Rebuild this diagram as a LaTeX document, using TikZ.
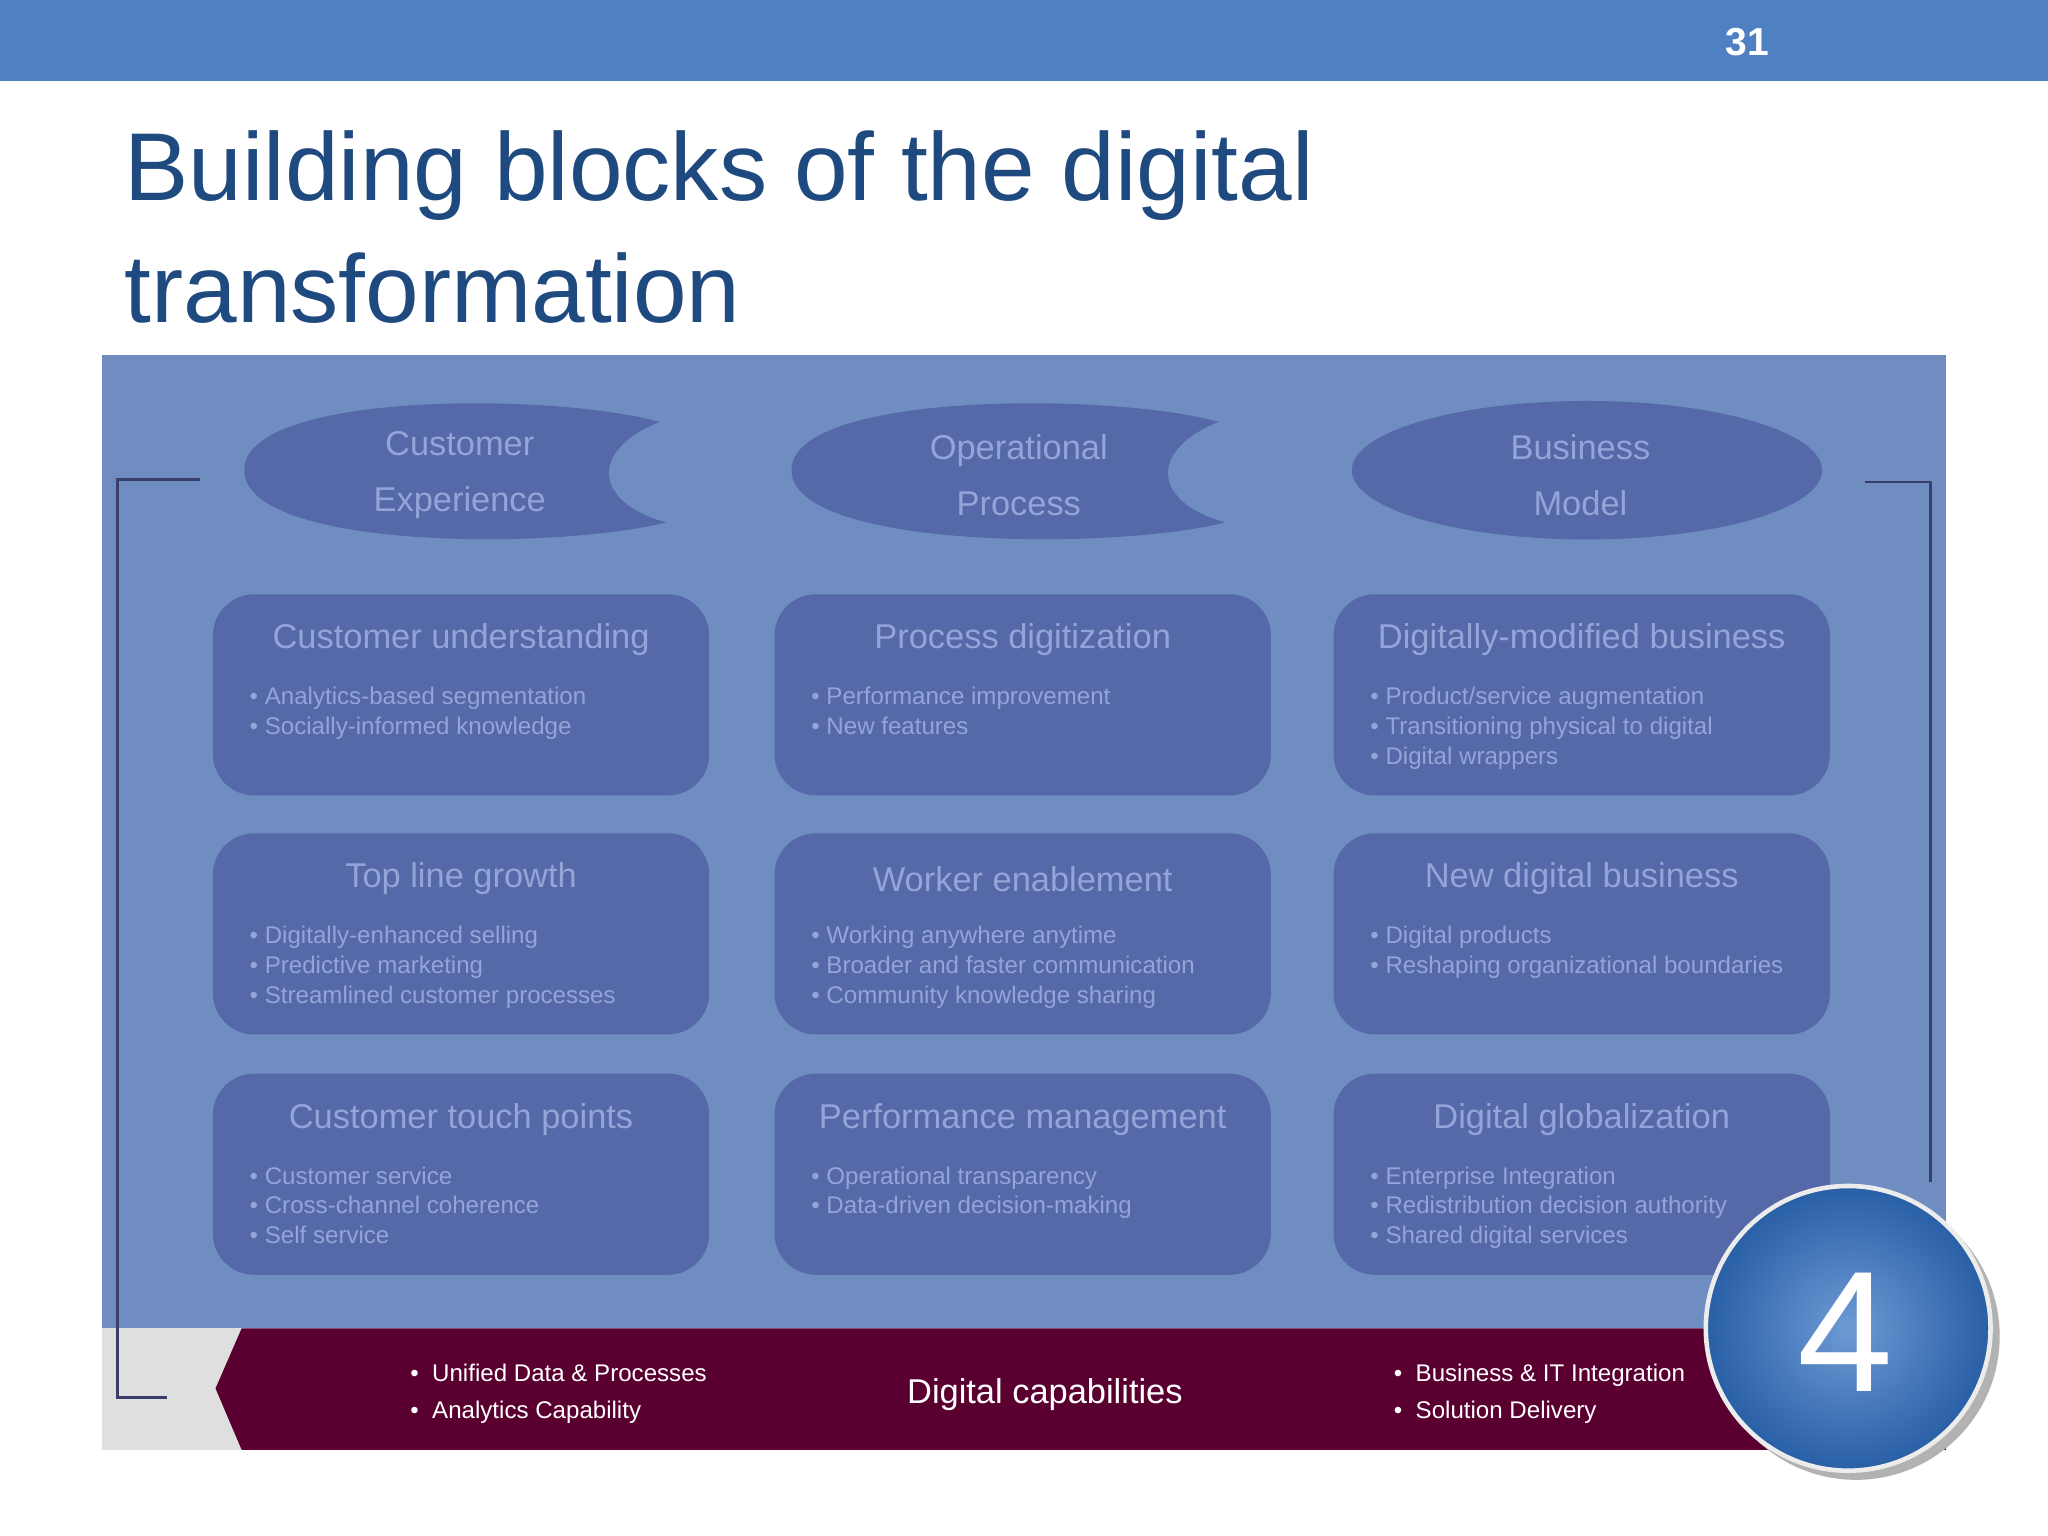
\documentclass[tikz,border=0pt]{standalone}
\usepackage{fontspec}
\setmainfont{Liberation Sans}
\definecolor{topbar}{HTML}{4F81C2}
\definecolor{ttl}{HTML}{1F4A80}
\definecolor{panel}{HTML}{6F8DC0}
\definecolor{blk}{HTML}{5568A8}
\definecolor{blkt}{HTML}{93A5D8}
\definecolor{maroon}{HTML}{5A0030}
\definecolor{brk}{HTML}{3A3F6A}
\definecolor{ball}{HTML}{2F6FC2}
\tikzset{
  blockbox/.style={fill=blk,rounded corners=18pt},
  blocktitle/.style={text=blkt,font=\fontsize{15}{17}\selectfont,anchor=center},
  bul/.style={text=blkt,font=\fontsize{10.5}{13}\selectfont,anchor=north west,align=left},
  elltext/.style={text=blkt,font=\fontsize{15}{24.5}\selectfont,align=center},
  wtext/.style={text=white,font=\fontsize{10.5}{16}\selectfont,align=left,anchor=west},
  bracket/.style={draw=brk,line width=1.2pt}
}
\begin{document}
\begin{tikzpicture}[x=0.02cm,y=-0.02cm]
\useasboundingbox (0,0) rectangle (1568,1176);
\fill[white] (0,0) rectangle (1568,1176);
\fill[topbar] (0,0) rectangle (1568,62);
\node[text=white,font=\bfseries\fontsize{17}{20}\selectfont] (num) at (1338,32) {31};
\node[text=ttl,font=\fontsize{42}{53}\selectfont,anchor=north west,align=left,inner sep=0] (title) at (95,100) {Building blocks of the digital\\transformation};
% panel
\fill[panel] (78,272) rectangle (1490,1017);
\fill[gray!25] (78,1017) rectangle (1490,1110);
\fill[maroon] (185,1017) -- (165,1063) -- (185,1110) -- (1490,1110) -- (1490,1017) -- cycle;
% brackets
\draw[bracket] (153,367) -- (90,367) -- (90,1070) -- (128,1070);
\draw[bracket] (1428,369) -- (1478,369) -- (1478,905);
% ellipses
\fill[blk] (505,323) .. controls (420,300) and (187,300) .. (187,360) .. controls (187,420) and (420,422) .. (510,400) .. controls (455,385) and (450,345) .. (505,323) -- cycle;
\node[elltext] (e1) at (352,364) {Customer\\Experience};
\fill[blk] (933,323) .. controls (850,300) and (606,300) .. (606,360) .. controls (606,420) and (850,422) .. (938,400) .. controls (883,385) and (878,345) .. (933,323) -- cycle;
\node[elltext] (e2) at (780,364) {Operational\\Process};
\fill[blk] (1215,360) ellipse [x radius=180, y radius=53];
\node[elltext] (e3) at (1210,364) {Business\\Model};
% blocks
\foreach \x/\r/\t/\b [count=\i] in {
 163/455/{Customer understanding}/{• Analytics-based segmentation\\• Socially-informed knowledge},
 593/455/{Process digitization}/{• Performance improvement\\• New features},
 1021/455/{Digitally-modified business}/{• Product/service augmentation\\• Transitioning physical to digital\\• Digital wrappers},
 163/638/{Top line growth}/{• Digitally-enhanced selling\\• Predictive marketing\\• Streamlined customer processes},
 593/638/{Worker enablement}/{• Working anywhere anytime\\• Broader and faster communication\\• Community knowledge sharing},
 1021/638/{New digital business}/{• Digital products\\• Reshaping organizational boundaries},
 163/822/{Customer touch points}/{• Customer service\\• Cross-channel coherence\\• Self service},
 593/822/{Performance management}/{• Operational transparency\\• Data-driven decision-making},
 1021/822/{Digital globalization}/{• Enterprise Integration\\• Redistribution decision authority\\• Shared digital services}}{
  \fill[blockbox] (\x,\r) rectangle ++(380,154);
  \node[blocktitle] (bt\i) at (\x+190,\r+35) {\t};
  \node[bul] (bb\i) at (\x+22,\r+65) {\b};
}
% bottom strip
\node[wtext] (l1) at (308,1067) {• \ Unified Data \& Processes\\• \ Analytics Capability};
\node[text=white,font=\fontsize{15}{18}\selectfont] (dc) at (800,1068) {Digital capabilities};
\node[wtext] (r1) at (1061,1067) {• \ Business \& IT Integration\\• \ Solution Delivery};
% ball
\fill[black!30] (1421,1023) circle (110);
\shade[inner color=ball!70!white,outer color=ball!85!black] (1415,1017) circle (110);
\draw[white!85!gray,line width=2pt] (1415,1017) circle (109);
\node[text=white,font=\fontsize{75}{80}\selectfont] (four) at (1413,1020) {4};
\end{tikzpicture}
\end{document}
